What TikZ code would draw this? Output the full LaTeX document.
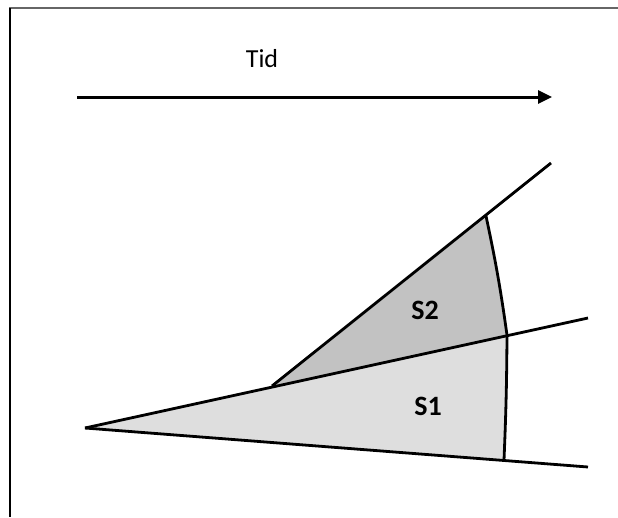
\documentclass[tikz,border=0pt]{standalone}
\usepackage{fontspec}
\setmainfont{Carlito}
\usepackage{tikz}
\usetikzlibrary{arrows.meta, calc}

\definecolor{lightfill}{gray}{0.87}
\definecolor{darkfill}{gray}{0.76}

\begin{document}
\begin{tikzpicture}[x=1pt,y=-1pt, line width=2.8pt,
  lbl/.style={font=\fontsize{26}{30}\selectfont, anchor=base},
  seclbl/.style={font=\fontsize{28}{32}\selectfont\bfseries, anchor=base}]
\useasboundingbox (0,0) rectangle (618,517);
% frame
\draw[line width=2pt, gray!80!black] (9,7.5) -- (618,7.5);
\draw[line width=2pt] (10,8) -- (10,517);

% time axis
\coordinate (t0) at (77,97);
\coordinate (t1) at (552,97);
\node[lbl] (tid) at (262,67) {Tid};
\draw[-{Triangle[length=14pt,width=13pt]}, line width=3pt] (t0) -- (t1);

% wedge points
\coordinate (apex) at (85,428);
\coordinate (fork) at (272,386);
\coordinate (top) at (486,216);
\coordinate (mid) at (507,335);
\coordinate (bot) at (504,460);
\coordinate (upend) at (551,163);
\coordinate (midend) at (588,318);
\coordinate (botend) at (588,467);

% areas
\fill[lightfill] (apex) -- (mid) to[bend left=1] (bot) -- cycle;
\fill[darkfill] (fork) -- (top) to[bend left=2] (mid) -- cycle;
\node[seclbl] (s2) at (425,319) {S2};
\node[seclbl] (s1) at (428,415) {S1};

% lines
\draw (apex) -- (botend);
\draw (apex) -- (midend);
\draw (fork) -- (upend);
\draw (top) to[bend left=2] (mid) to[bend left=1] (bot);
\end{tikzpicture}
\end{document}
